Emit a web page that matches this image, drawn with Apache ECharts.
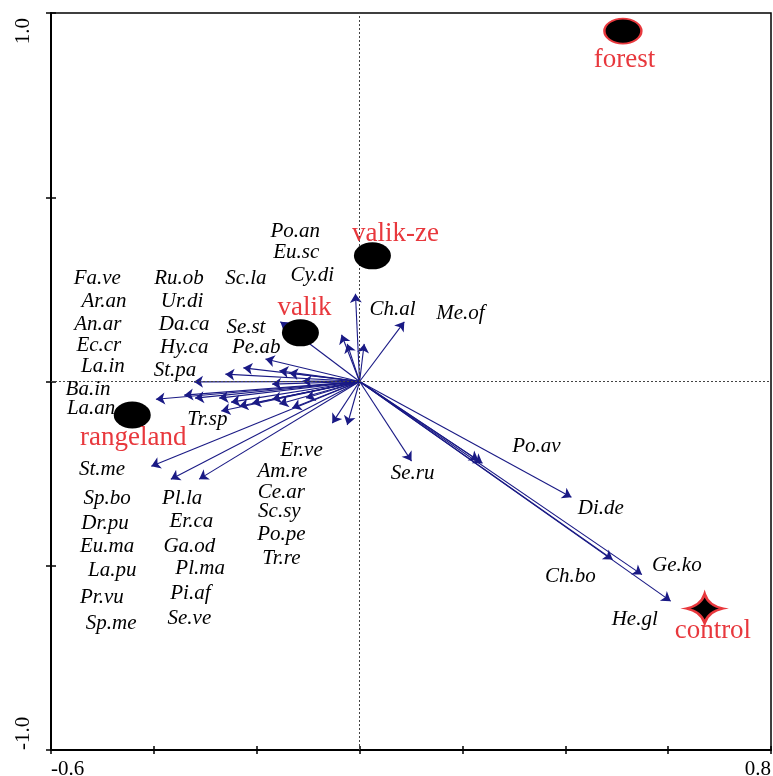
<!DOCTYPE html>
<html>
<head>
<meta charset="utf-8">
<script src="https://cdn.jsdelivr.net/npm/echarts@6/dist/echarts.min.js"></script>
<style>
html,body{margin:0;padding:0;background:#fff;}
#chart{width:773px;height:776px;}
</style>
</head>
<body>
<div id="chart"></div>
<script>
// Species arrow tips (biplot scores)
const arrowX = [0.605,0.549,0.492,0.412,0.239,0.231,0.101,0.087,-0.008,-0.035,-0.024,0.009,-0.154,-0.183,-0.053,-0.024,-0.226,-0.261,-0.156,-0.137,-0.322,-0.170,-0.111,-0.396,-0.341,-0.320,-0.273,-0.250,-0.234,-0.209,-0.269,-0.170,-0.156,-0.131,-0.104,-0.405,-0.367,-0.312];
const arrowY = [-0.596,-0.524,-0.483,-0.314,-0.222,-0.214,-0.216,0.162,0.238,0.127,0.102,0.102,0.162,0.061,-0.113,-0.118,0.037,0.020,0.029,0.023,-0.001,-0.007,0.001,-0.048,-0.037,-0.045,-0.045,-0.056,-0.067,-0.059,-0.080,-0.048,-0.061,-0.072,-0.045,-0.230,-0.265,-0.265];

// Species label anchors
const speciesNames = ['Po.an','Eu.sc','Cy.di','Fa.ve','Ru.ob','Sc.la','Ar.an','Ur.di','An.ar','Da.ca','Se.st','Ch.al','Me.of','Ec.cr','Hy.ca','Pe.ab','La.in','St.pa','Ba.in','La.an','Tr.sp','Er.ve','Am.re','Ce.ar','Sc.sy','Po.pe','Tr.re','St.me','Sp.bo','Pl.la','Dr.pu','Er.ca','Eu.ma','Ga.od','La.pu','Pl.ma','Pr.vu','Pi.af','Sp.me','Se.ve','Po.av','Se.ru','Di.de','Ge.ko','Ch.bo','He.gl'];
const speciesLabelX = [-0.125,-0.123,-0.092,-0.510,-0.351,-0.221,-0.497,-0.345,-0.509,-0.341,-0.221,0.064,0.196,-0.507,-0.341,-0.201,-0.499,-0.359,-0.528,-0.522,-0.296,-0.113,-0.150,-0.152,-0.156,-0.152,-0.152,-0.501,-0.491,-0.345,-0.495,-0.327,-0.491,-0.331,-0.481,-0.310,-0.501,-0.329,-0.483,-0.331,0.344,0.103,0.469,0.617,0.410,0.535];
const speciesLabelY = [0.407,0.350,0.287,0.279,0.279,0.279,0.216,0.216,0.154,0.154,0.146,0.195,0.184,0.099,0.091,0.091,0.042,0.031,-0.023,-0.072,-0.102,-0.186,-0.244,-0.301,-0.352,-0.415,-0.480,-0.238,-0.317,-0.317,-0.385,-0.380,-0.448,-0.448,-0.513,-0.507,-0.586,-0.575,-0.657,-0.643,-0.176,-0.249,-0.344,-0.499,-0.529,-0.646];

// Sites (centroids) and their label anchors
const siteNames = ['forest','valik-ze','valik','rangeland','control'];
const siteX = [0.512,0.025,-0.115,-0.442,0.671];
const siteY = [0.951,0.341,0.132,-0.091,-0.616];
const siteLabelX = [0.515,0.070,-0.107,-0.440,0.687];
const siteLabelY = [0.872,0.401,0.200,-0.154,-0.676];

// Axis tick labels shown
const xTickLabels = {'-0.6':'-0.6','0.8':'0.8'};
const yTickLabels = {'1':'1.0','-1':'-1.0'};

const RED = '#e8383d';
const NAVY = '#1a1a85';
const SERIF = 'Liberation Serif';
const starPath = 'path://M50,0 Q60,40 100,50 Q60,60 50,100 Q40,60 0,50 Q40,40 50,0 Z';

function fmtX(v){ const k = (Math.round(v*10)/10).toString(); return xTickLabels[k] || ''; }
function fmtY(v){ const k = (Math.round(v*10)/10).toString(); return yTickLabels[k] || ''; }

const axisLabelFont = {fontFamily: SERIF, fontSize: 21, color: '#000'};

const chart = echarts.init(document.getElementById('chart'));
chart.setOption({
  animation: false,
  backgroundColor: '#fff',
  grid: {left: 51, right: 2, top: 13, bottom: 26, containLabel: false, outerBoundsMode: 'none',
         show: true, borderColor: '#000', borderWidth: 1.5, backgroundColor: 'transparent'},
  xAxis: [
    {type: 'value', min: -0.6, max: 0.8, interval: 0.2, position: 'bottom',
     axisLine: {show: true, onZero: false, lineStyle: {color: '#000', width: 2}},
     axisTick: {show: true, inside: false, length: 4, lineStyle: {color: '#000', width: 1.5}},
     splitLine: {show: false},
     axisLabel: Object.assign({show: true, margin: 9, formatter: fmtX, showMinLabel: true, showMaxLabel: true, alignMinLabel: 'left', alignMaxLabel: 'right'}, axisLabelFont)},
    {type: 'value', min: -0.6, max: 0.8, interval: 0.2, position: 'bottom',
     axisLine: {show: false, onZero: false},
     axisTick: {show: true, inside: true, length: 4, lineStyle: {color: '#000', width: 1.5}},
     splitLine: {show: false}, axisLabel: {show: false}}
  ],
  yAxis: [
    {type: 'value', min: -1, max: 1, interval: 0.5, position: 'left',
     axisLine: {show: true, onZero: false, lineStyle: {color: '#000', width: 2}},
     axisTick: {show: true, inside: false, length: 5, lineStyle: {color: '#000', width: 1.5}},
     splitLine: {show: false},
     axisLabel: Object.assign({show: true, margin: 17, rotate: 90, padding: [0, 5, 0, 0], formatter: fmtY, showMinLabel: true, showMaxLabel: true, alignMinLabel: 'left', alignMaxLabel: 'right'}, axisLabelFont)},
    {type: 'value', min: -1, max: 1, interval: 0.5, position: 'left',
     axisLine: {show: false, onZero: false},
     axisTick: {show: true, inside: true, length: 5, lineStyle: {color: '#000', width: 1.5}},
     splitLine: {show: false}, axisLabel: {show: false}}
  ],
  series: [
    {
      type: 'lines', coordinateSystem: 'cartesian2d', xAxisIndex: 0, yAxisIndex: 0, z: 3,
      symbol: ['none', 'arrow'], symbolSize: 9, silent: true,
      lineStyle: {color: NAVY, width: 1.1, opacity: 1, curveness: 0},
      data: arrowX.map((x, i) => ({coords: [[0, 0], [x, arrowY[i]]]})),
      markLine: {
        silent: true, symbol: 'none', label: {show: false},
        lineStyle: {type: [2, 2], color: '#444', width: 1},
        data: [{xAxis: 0}, {yAxis: 0}]
      }
    },
    {
      type: 'scatter', xAxisIndex: 0, yAxisIndex: 0, z: 4, silent: true,
      symbolSize: 1, itemStyle: {color: 'rgba(0,0,0,0)', opacity: 1},
      label: {show: true, position: 'inside', formatter: '{b}', fontFamily: SERIF, fontStyle: 'italic', fontSize: 21, color: '#000', opacity: 1},
      data: speciesNames.map((n, i) => ({name: n, value: [speciesLabelX[i], speciesLabelY[i]]}))
    },
    {
      type: 'scatter', xAxisIndex: 0, yAxisIndex: 0, z: 5, silent: true,
      data: siteNames.map((n, i) => {
        const item = {name: n, value: [siteX[i], siteY[i]], symbol: 'circle', symbolSize: [37, 27],
          itemStyle: {color: '#000', opacity: 1, borderColor: '#000', borderWidth: 0}};
        if (n === 'forest') { item.symbolSize = [37, 25]; item.itemStyle = {color: '#000', opacity: 1, borderColor: RED, borderWidth: 2}; }
        if (n === 'control') { item.symbol = starPath; item.symbolSize = [37, 29]; item.itemStyle = {color: '#000', opacity: 1, borderColor: RED, borderWidth: 2.5}; }
        return item;
      })
    },
    {
      type: 'scatter', xAxisIndex: 0, yAxisIndex: 0, z: 6, silent: true,
      symbolSize: 1, itemStyle: {color: 'rgba(0,0,0,0)', opacity: 1},
      label: {show: true, position: 'inside', formatter: '{b}', fontFamily: SERIF, fontSize: 27, color: RED, opacity: 1},
      data: siteNames.map((n, i) => ({name: n, value: [siteLabelX[i], siteLabelY[i]]}))
    }
  ]
});
</script>
</body>
</html>
